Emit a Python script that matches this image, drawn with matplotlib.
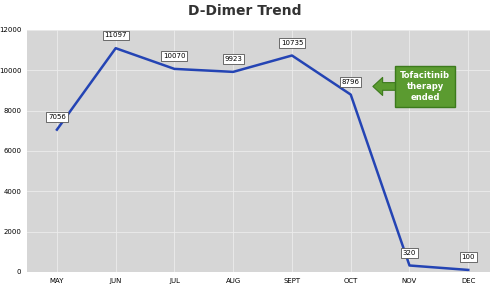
import matplotlib
matplotlib.use("Agg")
import matplotlib.pyplot as plt

months = ["MAY", "JUN", "JUL", "AUG", "SEPT", "OCT", "NOV", "DEC"]
d_dimer = [7056, 11097, 10070, 9923, 10735, 8796, 320, 100]
y_ticks = [0, 2000, 4000, 6000, 8000, 10000, 12000]

green = "#5b9b30"
green_edge = "#3c7a1c"

fig = plt.figure(figsize=(4.9, 2.94), dpi=100)
ax = fig.add_axes([0.055, 0.075, 0.945, 0.823])
ax.set_facecolor("#d6d6d6")

x = list(range(len(months)))
ax.plot(x, d_dimer, color="#2444b4", lw=1.8, zorder=3)

for xi, v in zip(x, d_dimer):
    ax.annotate(str(v), (xi, v), xytext=(0, 7), textcoords="offset points",
                ha="center", va="bottom", fontsize=5,
                bbox=dict(boxstyle="square,pad=0.25", fc="white", ec="#555555", lw=0.6),
                zorder=4)

# note about the therapy
ax.annotate("", xy=(5.33, 9200), xytext=(5.9, 9200),
            arrowprops=dict(arrowstyle="simple,head_width=1.3,head_length=0.7,tail_width=0.55",
                            fc=green, ec=green_edge, lw=0.8), zorder=4)
ax.text(6.27, 9200, "Tofacitinib\ntherapy\nended", ha="center", va="center",
        fontsize=6, fontweight="bold", color="white", linespacing=1.25,
        bbox=dict(boxstyle="square,pad=0.6", fc=green, ec=green_edge, lw=1.0), zorder=5)

ax.set_xlim(-0.51, 7.37)
ax.set_ylim(0, 12000)
ax.set_xticks(x)
ax.set_xticklabels(months)
ax.set_yticks(y_ticks)
ax.tick_params(axis="both", labelsize=5, length=0, pad=4)
ax.grid(True, color="#ececec", lw=0.6)
ax.set_axisbelow(True)
for s in ax.spines.values():
    s.set_visible(False)

fig.suptitle("D-Dimer Trend", x=0.5, y=0.985, fontsize=10, fontweight="bold", color="#333333")
fig.savefig("out.png", dpi=100)
